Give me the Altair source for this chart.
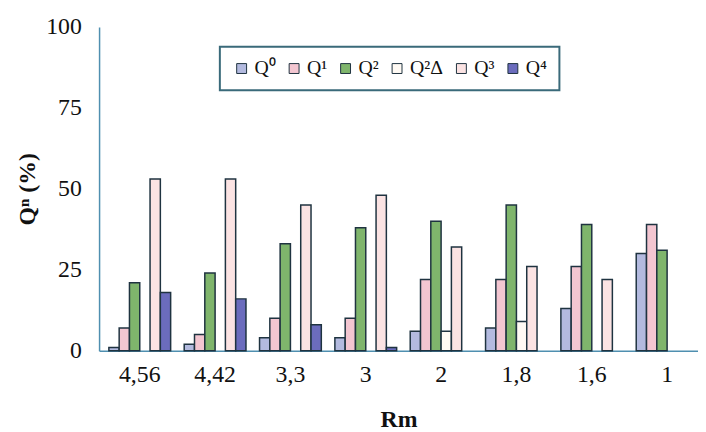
import altair as alt
import pandas as pd

categories = ["4,56", "4,42", "3,3", "3", "2", "1,8", "1,6", "1"]
series = ["Q⁰", "Q¹", "Q²", "Q²Δ", "Q³", "Q⁴"]
q0 = [1, 2, 4, 4, 6, 7, 13, 30]
q1 = [7, 5, 10, 10, 22, 22, 26, 39]
q2 = [21, 24, 33, 38, 40, 45, 39, 31]
q2d = [0, 0, 0, 0, 6, 9, 0, 0]
q3 = [53, 53, 45, 48, 32, 26, 22, 0]
q4 = [18, 16, 8, 1, 0, 0, 0, 0]
colors = ["#b3badf", "#f3c6d1", "#7fb56c", "#fffaf4", "#fbe3e3", "#6b6cbd"]

rows = []
for s, vals in zip(series, [q0, q1, q2, q2d, q3, q4]):
    for c, v in zip(categories, vals):
        if v > 0:
            rows.append({"Rm": c, "series": s, "value": v})
df = pd.DataFrame(rows)

font = "Liberation Serif"
axis_color = "#4f8fb0"

chart = alt.Chart(df).mark_bar(stroke="#1f3340", strokeWidth=1.5).encode(
    x=alt.X(
        "Rm:N",
        sort=categories,
        title="Rm",
        scale=alt.Scale(domain=categories, paddingInner=0.18, paddingOuter=0.065, align=1),
        axis=alt.Axis(
            labelAngle=0, ticks=False, labelPadding=12, labelFont=font,
            labelFontSize=24, labelColor="#111", titleFont=font, titleFontSize=24,
            titleFontWeight="bold", titleColor="#111", titlePadding=22,
            domainColor=axis_color, domainWidth=1.5,
        ),
    ),
    xOffset=alt.XOffset("series:N", scale=alt.Scale(domain=series, paddingInner=0, paddingOuter=0)),
    y=alt.Y(
        "value:Q",
        scale=alt.Scale(domain=[0, 100], nice=False),
        title="Qⁿ (%)",
        axis=alt.Axis(
            values=[0, 25, 50, 75, 100], grid=False, ticks=False, labelPadding=18,
            labelFont=font, labelFontSize=24, labelColor="#111", titleFont=font,
            titleFontSize=24, titleFontWeight="bold", titleColor="#111",
            titlePadding=6, domainColor=axis_color, domainWidth=1.5,
        ),
    ),
    color=alt.Color(
        "series:N",
        scale=alt.Scale(domain=series, range=colors),
        legend=alt.Legend(
            title=None, orient="none", legendX=122, legendY=20,
            direction="horizontal", columns=6, symbolType="square",
            symbolSize=100, symbolStrokeColor="#1f3340", symbolStrokeWidth=1,
            labelFont=font, labelFontSize=20, labelColor="#111", labelOffset=3,
            columnPadding=8, padding=12, strokeColor="#3a6a7a",
            fillColor="white", symbolOpacity=1,
        ),
    ),
).properties(
    width=605,
    height=327,
    autosize=alt.AutoSizeParams(type="none"),
    padding={"left": 92, "top": 17, "right": 0, "bottom": 80},
).configure_view(stroke=None).configure_legend(strokeWidth=2)

chart.save("out.html", embed_options={"renderer": "svg", "actions": False})
